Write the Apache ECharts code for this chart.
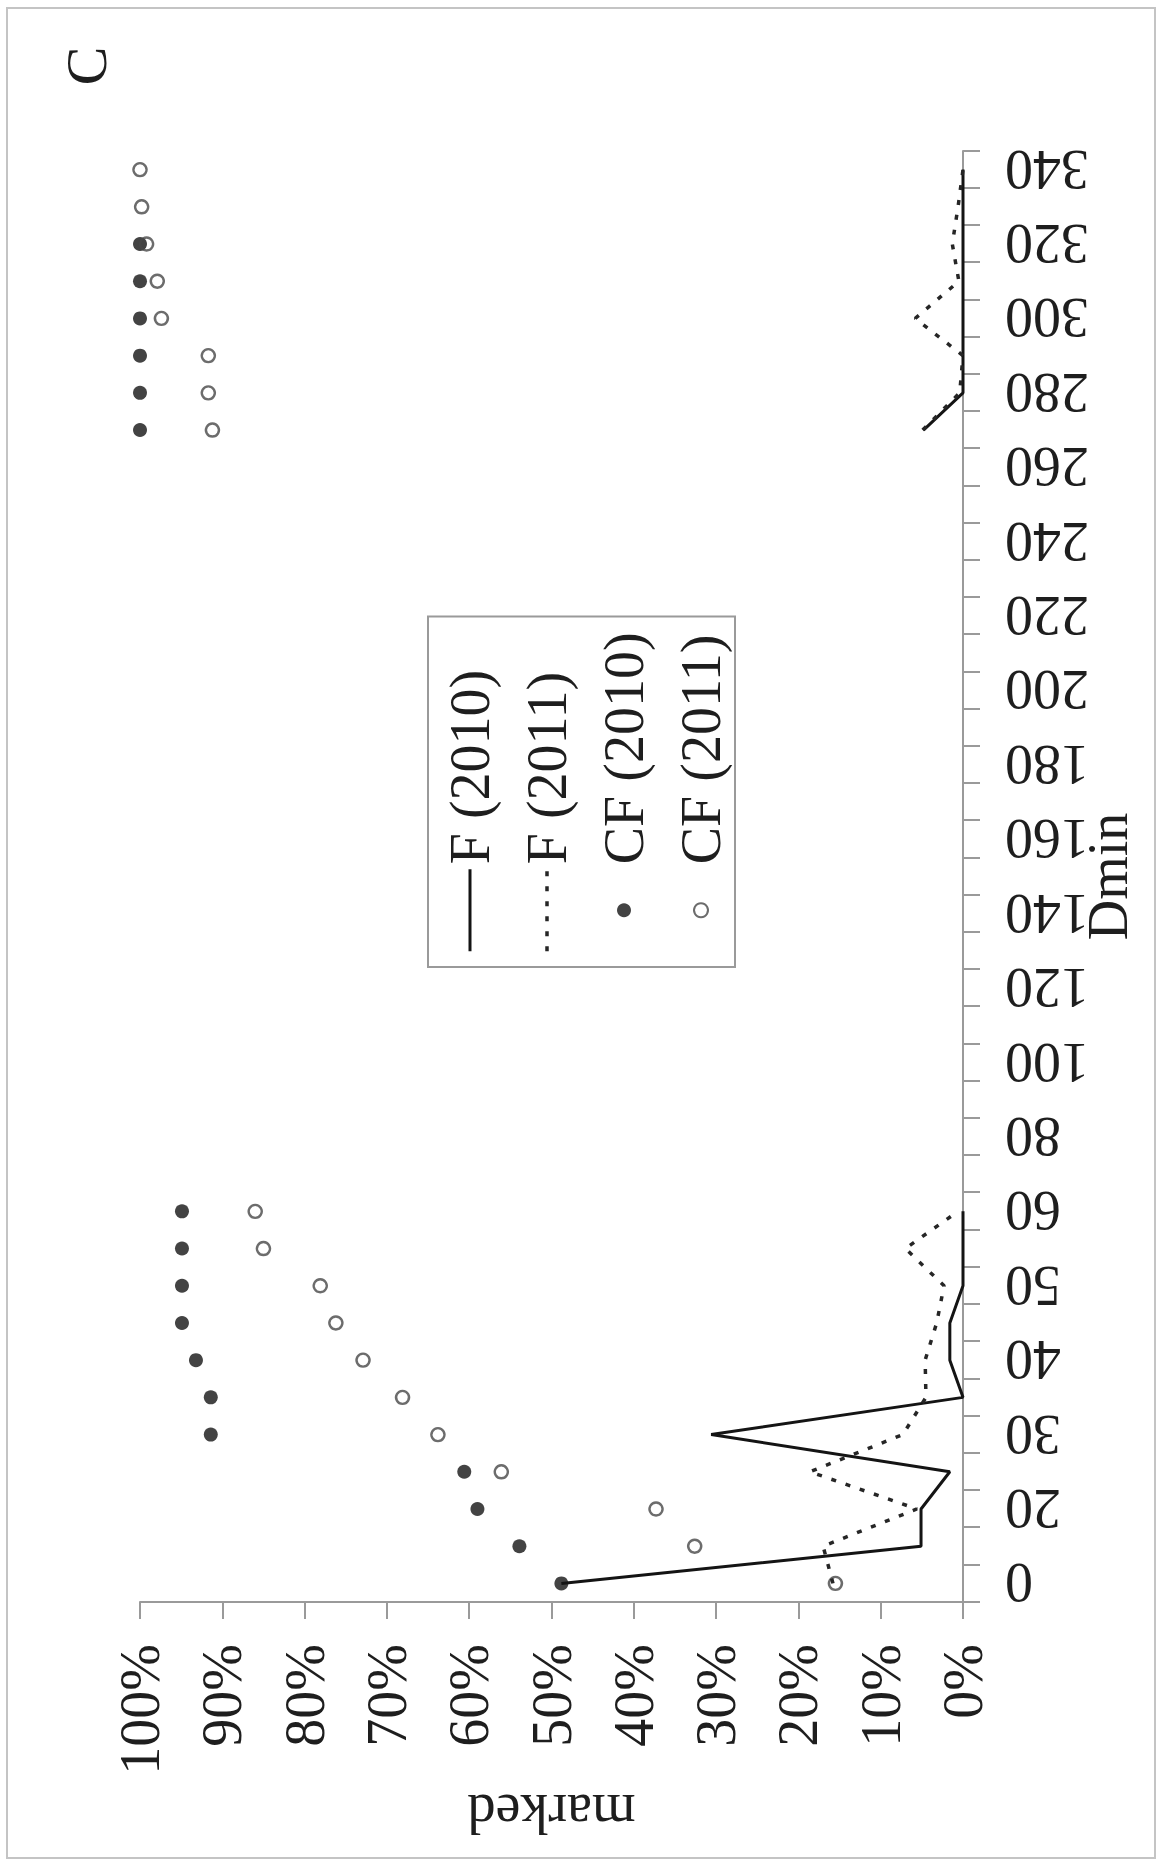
<!DOCTYPE html>
<html>
<head>
<meta charset="utf-8">
<script src="https://cdn.jsdelivr.net/npm/echarts@6/dist/echarts.min.js"></script>
<style>
  html, body { margin: 0; padding: 0; background: #ffffff; overflow: hidden; }
  body { width: 1160px; height: 1865px; position: relative; }
  #chart {
    position: absolute; left: 0; top: 0;
    width: 1865px; height: 1160px;
    transform-origin: 0 0;
    transform: translateY(1865px) rotate(-90deg);
  }
</style>
</head>
<body>
<div id="chart"></div>
<script>
// Dmin categories (x axis, also the tick labels; every other one is shown)
const dminCategories = ['0','10','20','25','30','35','40','45','50','55','60','70','80','90','100','110','120','130','140','150','160','170','180','190','200','210','220','230','240','250','260','270','280','290','300','310','320','330','340'];

// F (2010) – frequency, %
const f2010 = [48.8, 5.1, 5.1, 1.6, 30.6, 0, 1.6, 1.6, 0, 0, 0,
  null, null, null, null, null, null, null, null, null, null,
  null, null, null, null, null, null, null, null, null, null,
  4.8, 0, 0, 0, 0, 0, 0, 0];

// F (2011) – frequency, %
const f2011 = [15.8, 17.0, 5.6, 18.6, 7.3, 4.5, 4.6, 3.2, 2.3, 7.0, 0.6,
  null, null, null, null, null, null, null, null, null, null,
  null, null, null, null, null, null, null, null, null, null,
  4.9, 0.4, 0, 5.8, 0.5, 1.3, 0.6, 0];

// CF (2010) – cumulative frequency, %
const cf2010 = [48.8, 53.9, 59.0, 60.6, 91.4, 91.4, 93.2, 94.9, 94.9, 94.9, 94.9,
  null, null, null, null, null, null, null, null, null, null,
  null, null, null, null, null, null, null, null, null, null,
  100, 100, 100, 100, 100, 100, null, null];

// CF (2011) – cumulative frequency, %
const cf2011 = [15.5, 32.6, 37.3, 56.1, 63.8, 68.1, 72.9, 76.2, 78.1, 85.0, 86.0,
  null, null, null, null, null, null, null, null, null, null,
  null, null, null, null, null, null, null, null, null, null,
  91.2, 91.7, 91.7, 97.4, 97.9, 99.2, 99.8, 100];

const seriesNames = ['F (2010)', 'F (2011)', 'CF (2010)', 'CF (2011)'];
const panelLabel = 'C';

const FONT = '"Liberation Serif", "Times New Roman", serif';
const INK = '#1e1e1e';
const AXIS = '#9a9a9a';
const SOLID = '#141414';
const DOTTED = '#262626';

const chart = echarts.init(document.getElementById('chart'), null, { renderer: 'svg' });

const hiddenSymbol = { color: 'rgba(0,0,0,0)', opacity: 0, borderWidth: 0 };

chart.setOption({
  animation: false,
  backgroundColor: '#ffffff',
  textStyle: { fontFamily: FONT, color: INK },
  grid: { left: 263, right: 151, top: 140, bottom: 197, containLabel: false, outerBoundsMode: 'none' },
  graphic: [
    {
      type: 'rect', silent: true,
      shape: { x: 7, y: 7, width: 1850, height: 1148 },
      style: { fill: 'none', stroke: '#c4c4c4', lineWidth: 2 }
    },
    {
      type: 'text', silent: true,
      style: { text: panelLabel, x: 1799, y: 86, font: '58px ' + FONT, fill: INK, align: 'center', verticalAlign: 'middle' }
    }
  ],
  legend: {
    orient: 'vertical',
    left: 898, top: 428,
    padding: [14, 16, 6, 14],
    itemGap: 21,
    itemWidth: 82, itemHeight: 14,
    borderColor: '#9a9a9a', borderWidth: 2,
    textStyle: { fontFamily: FONT, fontSize: 56, color: INK },
    data: [
      { name: seriesNames[0], itemStyle: hiddenSymbol, lineStyle: { color: SOLID, width: 3 } },
      { name: seriesNames[1], itemStyle: hiddenSymbol, lineStyle: { color: DOTTED, width: 3.5, type: [5, 10] } },
      { name: seriesNames[2] },
      { name: seriesNames[3] }
    ]
  },
  xAxis: {
    type: 'category',
    data: dminCategories,
    boundaryGap: true,
    name: 'Dmin',
    nameLocation: 'middle',
    nameGap: 117,
    nameMoveOverlap: false,
    nameTextStyle: { fontFamily: FONT, fontSize: 56, color: INK },
    axisLine: { show: true, lineStyle: { color: AXIS, width: 2 } },
    axisTick: { show: true, interval: 0, length: 17, lineStyle: { color: AXIS, width: 2 } },
    axisLabel: { interval: 1, rotate: 90, margin: 42, fontFamily: FONT, fontSize: 56, color: INK },
    splitLine: { show: false }
  },
  yAxis: {
    type: 'value',
    min: 0, max: 100, interval: 10,
    name: 'marked',
    nameLocation: 'middle',
    nameGap: 180,
    nameTextStyle: { fontFamily: FONT, fontSize: 56, color: INK },
    axisLine: { show: true, lineStyle: { color: AXIS, width: 2 } },
    axisTick: { show: true, length: 17, lineStyle: { color: AXIS, width: 2 } },
    axisLabel: { formatter: '{value}%', margin: 42, fontFamily: FONT, fontSize: 56, color: INK },
    splitLine: { show: false }
  },
  series: [
    {
      name: seriesNames[0], type: 'line', data: f2010,
      symbol: 'none', connectNulls: false, clip: false,
      lineStyle: { color: SOLID, width: 3 },
      itemStyle: { color: SOLID }
    },
    {
      name: seriesNames[1], type: 'line', data: f2011,
      symbol: 'none', connectNulls: false, clip: false,
      lineStyle: { color: DOTTED, width: 3.5, type: [5, 10] },
      itemStyle: { color: DOTTED }
    },
    {
      name: seriesNames[2], type: 'scatter', data: cf2010,
      symbol: 'circle', symbolSize: 14, clip: false,
      itemStyle: { color: SOLID }
    },
    {
      name: seriesNames[3], type: 'scatter', data: cf2011,
      symbol: 'circle', symbolSize: 13, clip: false,
      itemStyle: { color: 'rgba(255,255,255,0)', borderColor: '#474747', borderWidth: 2.4 }
    }
  ]
});
</script>
</body>
</html>
